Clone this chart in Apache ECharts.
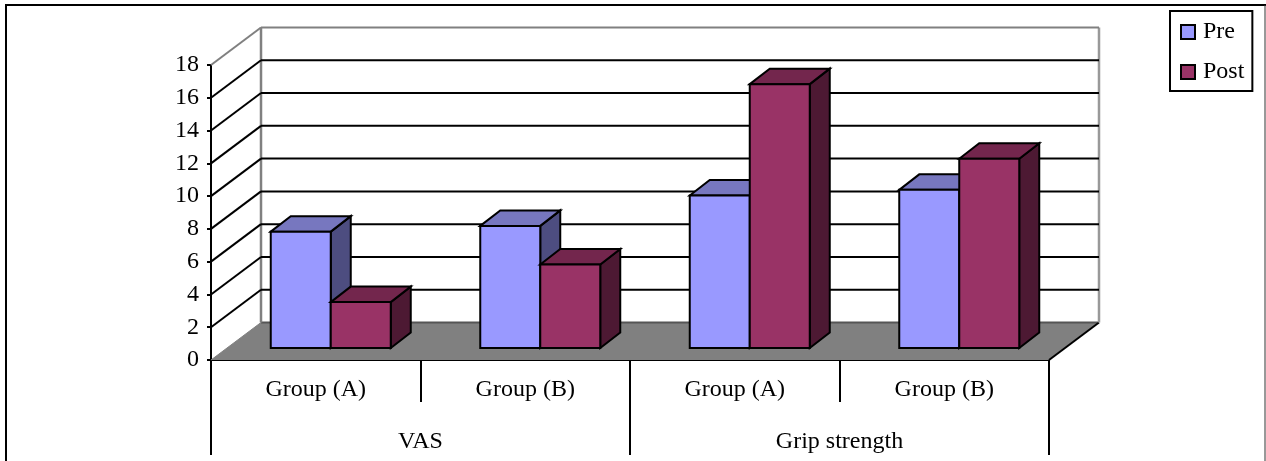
<!DOCTYPE html>
<html><head><meta charset="utf-8">
<style>html,body{margin:0;padding:0;background:#fff}#c{width:1266px;height:461px}</style>
<script src="https://cdn.jsdelivr.net/npm/echarts@6/dist/echarts.min.js"></script>
</head><body><div id="c"></div>
<script>
const groups = ['Group (A)', 'Group (B)', 'Group (A)', 'Group (B)'];
const measures = ['VAS', 'Grip strength'];
const pre = [7.1, 7.45, 9.3, 9.65];
const post = [2.8, 5.1, 16.1, 11.55];
const yTicks = [0, 2, 4, 6, 8, 10, 12, 14, 16, 18];

const FONT = '"Liberation Serif","Times New Roman",serif';
const WALL = {dx: 50, dy: 37.5};
const BAR = {w: 60, shiftX: 15, shiftY: 12, dx: 20, dy: 15.5};

function poly(points, fill, stroke, lw) {
  return {type: 'polygon', shape: {points}, style: {fill, stroke, lineWidth: lw}};
}
function seg(x1, y1, x2, y2, stroke, lw) {
  return {type: 'line', shape: {x1, y1, x2, y2}, style: {stroke, lineWidth: lw, fill: null}};
}
function barSeries(name, values, side, colors) {
  return {
    name, type: 'custom', coordinateSystem: 'cartesian2d', z: 5,
    itemStyle: {color: colors[0], borderColor: '#000', borderWidth: 2},
    encode: {x: 0, y: 1},
    data: values.map((v, i) => [i, v]),
    renderItem(params, api) {
      const c = api.coord([api.value(0), api.value(1)]);
      const b = api.coord([api.value(0), 0]);
      const x0 = c[0] + BAR.shiftX + (side < 0 ? -BAR.w : 0), x1 = x0 + BAR.w;
      const yt = c[1] - BAR.shiftY, yb = b[1] - BAR.shiftY;
      const dx = BAR.dx, dy = BAR.dy;
      return {type: 'group', children: [
        poly([[x1, yt], [x1 + dx, yt - dy], [x1 + dx, yb - dy], [x1, yb]], colors[2], '#000', 2),
        poly([[x0, yt], [x0 + dx, yt - dy], [x1 + dx, yt - dy], [x1, yt]], colors[1], '#000', 2),
        poly([[x0, yt], [x1, yt], [x1, yb], [x0, yb]], colors[0], '#000', 2)
      ]};
    }
  };
}
const chart = echarts.init(document.getElementById('c'), null, {renderer: 'canvas'});
chart.setOption({
  animation: false,
  backgroundColor: '#fff',
  textStyle: {fontFamily: FONT, color: '#000'},
  graphic: [
    {type: 'line', shape: {x1: 6, y1: 5, x2: 6, y2: 461}, style: {stroke: '#000', lineWidth: 2}, silent: true},
    {type: 'line', shape: {x1: 5, y1: 5, x2: 1266, y2: 5}, style: {stroke: '#000', lineWidth: 2}, silent: true},
    {type: 'line', shape: {x1: 1265, y1: 5, x2: 1265, y2: 461}, style: {stroke: '#333', lineWidth: 1}, silent: true}
  ],
  legend: {
    left: 1170, top: 11, orient: 'vertical', selectedMode: false,
    data: [{name: 'Pre', icon: 'rect'}, {name: 'Post', icon: 'rect'}],
    backgroundColor: '#fff', borderColor: '#000', borderWidth: 2, borderRadius: 0,
    padding: [6, 8, 4, 10], itemWidth: 14, itemHeight: 14, itemGap: 10,
    textStyle: {fontFamily: FONT, fontSize: 24, color: '#000', lineHeight: 24, padding: [6, 0, 0, 3]}
  },
  grid: {left: 211, top: 65, width: 838, height: 295, containLabel: false},
  xAxis: [
    {type: 'category', data: groups, position: 'bottom',
     axisLine: {show: true, lineStyle: {color: '#000', width: 2}},
     axisTick: {show: true, length: 42, alignWithLabel: false, lineStyle: {color: '#000', width: 2}},
     axisLabel: {interval: 0, margin: 18, fontFamily: FONT, fontSize: 24, color: '#000'}},
    {type: 'category', data: measures, position: 'bottom',
     axisLine: {show: false},
     axisTick: {show: true, length: 95, alignWithLabel: false, lineStyle: {color: '#000', width: 2}},
     axisLabel: {interval: 0, margin: 70, fontFamily: FONT, fontSize: 24, color: '#000'}}
  ],
  yAxis: {type: 'value', min: 0, max: 18, interval: 2,
    splitLine: {show: false},
    axisLine: {show: true, lineStyle: {color: '#000', width: 2}},
    axisTick: {show: true, length: 4, lineStyle: {color: '#000', width: 2}},
    axisLabel: {margin: 12, padding: [4, 0, 0, 0], fontFamily: FONT, fontSize: 24, color: '#000'}},
  series: [
    {name: 'floor', type: 'custom', z: 1, data: [[0, 0]], encode: {x: 0, y: 1},
     renderItem(params, api) {
       const g = params.coordSys, y = api.coord([0, 0])[1], l = g.x, r = g.x + g.width;
       return {type: 'group', children: [
         poly([[l, y], [l + WALL.dx, y - WALL.dy], [r + WALL.dx, y - WALL.dy], [r, y]], '#808080', null, 0),
         seg(l + WALL.dx, y - WALL.dy, r + WALL.dx, y - WALL.dy, '#555', 2),
         seg(r, y, r + WALL.dx, y - WALL.dy, '#000', 2),
         seg(l + WALL.dx, y - WALL.dy, l + WALL.dx, g.y - WALL.dy, '#808080', 2.5),
         seg(r + WALL.dx, y - WALL.dy, r + WALL.dx, g.y - WALL.dy, '#999', 2.5)
       ]};
     }},
    {name: 'grid', type: 'custom', z: 2, data: yTicks.map(v => [0, v]), encode: {x: 0, y: 1},
     renderItem(params, api) {
       const v = api.value(1), g = params.coordSys, y = api.coord([0, v])[1], l = g.x, r = g.x + g.width;
       if (v === 0) return {type: 'group', children: [seg(l, y, l + WALL.dx, y - WALL.dy, '#808080', 1)]};
       const col = v === 18 ? '#808080' : '#000';
       return {type: 'group', children: [
         seg(l, y, l + WALL.dx, y - WALL.dy, col, 2),
         seg(l + WALL.dx, y - WALL.dy, r + WALL.dx, y - WALL.dy, col, 2)
       ]};
     }},
    barSeries('Pre', pre, -1, ['#9999FF', '#7777BF', '#4D4D80']),
    barSeries('Post', post, 1, ['#993366', '#73264D', '#4D1933'])
  ]
});
</script></body></html>
